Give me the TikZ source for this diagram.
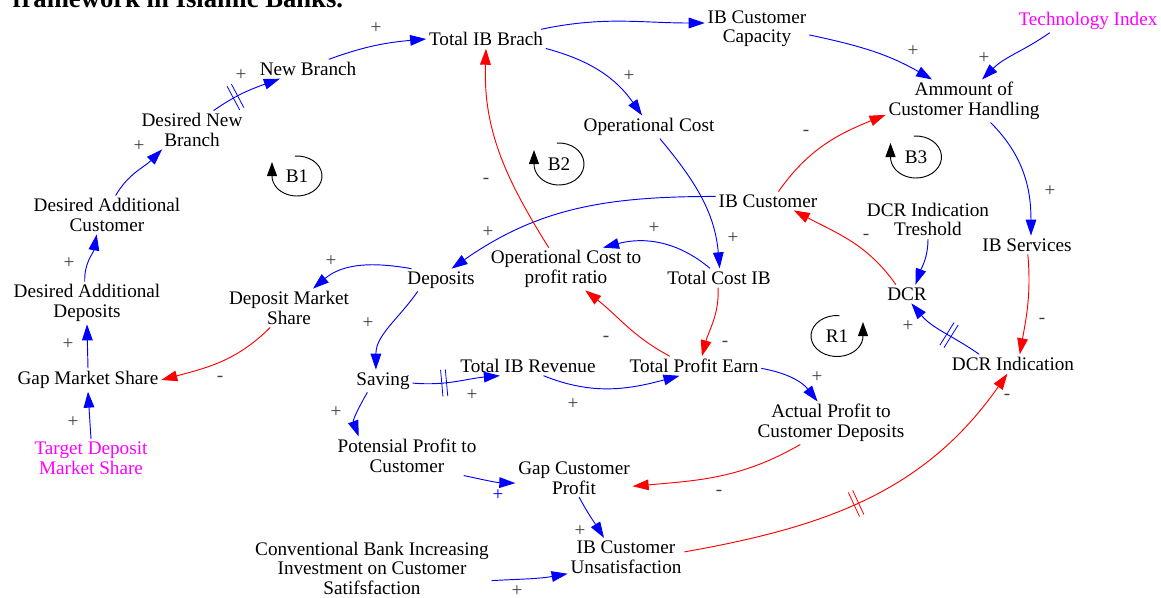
\documentclass[tikz,border=0pt]{standalone}
\usepackage{fontspec}
\setmainfont{Liberation Serif}
\usetikzlibrary{arrows.meta,decorations.markings}
\definecolor{exomagenta}{RGB}{255,0,255}
\newcommand{\varsize}{\fontsize{14.4}{14.6}\selectfont}

\tikzset{
  var/.style={align=center, inner sep=2pt, font=\varsize},
  exo/.style={var, text=exomagenta},
  sign/.style={inner sep=0pt, text=black!75, font=\varsize},
  poslink/.style={blue, line width=0.7pt, -{Triangle[length=12pt,width=8pt]}},
  neglink/.style={red, line width=0.7pt, -{Triangle[length=12pt,width=8pt]}},
  loopmark/.style={black, line width=0.7pt, -{Triangle[length=10.5pt,width=7.5pt]}},
  delaymark/.style={postaction={decorate, decoration={markings,
    mark=at position #1 with {\draw[-, line width=0.6pt] (-1.8pt,-10pt) -- (-1.8pt,10pt) (1.8pt,-10pt) -- (1.8pt,10pt);}}}}
}

\begin{document}
\begin{tikzpicture}[x=0.75pt, y=0.75pt]
\useasboundingbox (0,0) rectangle (1161,-597);

\node[anchor=base west, font=\fontsize{20}{24}\selectfont\bfseries] (title) at (8,-7) {framework in Islamic Banks.};

% variables
\node[var] (NB) at (308,-69) {New Branch};
\node[var] (TIB) at (486,-39) {Total IB Brach};
\node[var] (IBCC) at (757,-28.5) {IB Customer\\Capacity};
\node[exo] (TI) at (1088,-21) {Technology Index};
\node[var] (ACH) at (964,-101) {Ammount of\\Customer Handling};
\node[var] (OC) at (649,-127) {Operational Cost};
\node[var] (DNB) at (192,-130) {Desired New\\Branch};
\node[var] (DAC) at (107,-215) {Desired Additional\\Customer};
\node[var] (IBC) at (768,-201) {IB Customer};
\node[var] (DCRIT) at (928,-219.5) {DCR Indication\\Treshold};
\node[var] (IBS) at (1027,-245) {IB Services};
\node[var] (OCPR) at (566,-269) {Operational Cost to\\profit ratio};
\node[var] (TC) at (719,-278) {Total Cost IB};
\node[var] (Dep) at (441,-280) {Deposits};
\node[var] (DMS) at (289,-308) {Deposit Market\\Share};
\node[var] (DAD) at (87,-303) {Desired Additional\\Deposits};
\node[var] (DCR) at (907,-294) {DCR};
\node[var] (DCRI) at (1013,-364) {DCR Indication};
\node[var] (GMS) at (88,-380) {Gap Market Share};
\node[var] (Sav) at (383,-381) {Saving};
\node[var] (TR) at (528,-366) {Total IB Revenue};
\node[var] (TPE) at (694,-366) {Total Profit Earn};
\node[var] (APCD) at (831,-423) {Actual Profit to\\Customer Deposits};
\node[exo] (TDMS) at (91,-458) {Target Deposit\\Market Share};
\node[var] (PPC) at (407,-456) {Potensial Profit to\\Customer};
\node[var] (GCP) at (574,-478) {Gap Customer\\Profit};
\node[var] (IBU) at (626,-557) {IB Customer\\Unsatisfaction};
\node[var] (CBI) at (372,-568) {Conventional Bank Increasing\\Investment on Customer\\Satifsfaction};

% loop markers
\node (b1) at (297,-176) {\varsize B1};
\node (b2) at (559,-164) {\varsize B2};
\node (b3) at (916,-157) {\varsize B3};
\node (r1) at (837,-336) {\varsize R1};
\draw[loopmark] (b1.center) ++(95:25 and 20) arc[start angle=95, end angle=-180, x radius=25, y radius=20] -- ++(0,14);
\draw[loopmark] (b2.center) ++(95:25 and 21) arc[start angle=95, end angle=-180, x radius=25, y radius=21] -- ++(0,14);
\draw[loopmark] (b3.center) ++(95:25.5 and 21) arc[start angle=95, end angle=-180, x radius=25.5, y radius=21] -- ++(0,14);
\draw[loopmark] (r1.center) ++(85:26 and 20.5) arc[start angle=85, end angle=360, x radius=26, y radius=20.5] -- ++(0,14);

% links
\draw[poslink, delaymark=0.35] (DNB.42) to[out=35,in=200] (NB.199);
\draw[poslink] (NB.25) to[out=20,in=185] (TIB.180);
\draw[poslink] (TIB.10) to[out=12,in=180] (IBCC.174);
\draw[poslink] (TIB.-9) to[out=-15,in=125] (OC.121);
\draw[poslink] (IBCC.-7) to[out=-12,in=150] (ACH.146);
\draw[poslink] (TI.197) to[out=215,in=45] (ACH.50);
\draw[neglink] (IBC.42) to[out=55,in=202] (ACH.190);
\draw[poslink] (ACH.-39) to[out=-45,in=90] (IBS.67);
\draw[neglink] (IBS.-85) to[out=-85,in=80] (DCRI.55);
\draw[poslink] (DCRIT.-90) to[out=-90,in=70] (DCR.48);
\draw[poslink, delaymark=0.42] (DCRI.164) to[out=145,in=-50] (DCR.-65);
\draw[neglink] (DCR.140) to[out=125,in=-28] (IBC.-20);
\draw[neglink, delaymark=0.47] (IBU.5) to[out=10,in=-125] (DCRI.-120);
\draw[poslink] (OC.-47) to[out=-50,in=95] (TC.86);
\draw[poslink] (IBC.175) to[out=180,in=35] (Dep.47);
\draw[poslink] (TC.133) to[out=140,in=15] (OCPR.30);
\draw[neglink] (OCPR.129) to[out=122,in=-92] (TIB.-90);
\draw[neglink] (TPE.158) to[out=152,in=-38] (OCPR.-48);
\draw[neglink] (TC.-95) to[out=-88,in=75] (TPE.51);
\draw[poslink] (Dep.159) to[out=170,in=40] (DMS.39);
\draw[poslink] (Dep.206) to[out=-125,in=90] (Sav.122);
\draw[neglink] (DMS.226) to[out=-135,in=15] (GMS.0);
\draw[poslink, delaymark=0.36] (Sav.-4) to[out=-5,in=185] (TR.199);
\draw[poslink] (TR.-32) to[out=-22,in=195] (TPE.214);
\draw[poslink] (TPE.-2) to[out=-10,in=128] (APCD.122);
\draw[neglink] (APCD.215) to[out=-150,in=5] (GCP.-8);
\draw[poslink] (Sav.216) to[out=-120,in=110] (PPC.158);
\draw[poslink] (PPC.-19) to[out=-12,in=178] (GCP.185);
\draw[poslink] (GCP.-75) to[out=-62,in=122] (IBU.139);
\draw[poslink] (CBI.-6) to[out=3,in=190] (IBU.196);
\draw[poslink] (DAC.66) to[out=60,in=225] (DNB.213);
\draw[poslink] (DAD.96) to[out=92,in=-100] (DAC.242);
\draw[poslink] (GMS.north) -- (DAD.south);
\draw[poslink] (TDMS.north) -- (GMS.south);

% polarities
\node[sign] (s1) at (241,-75) {+};
\node[sign] (s2) at (376,-28) {+};
\node[sign] (s3) at (629,-76) {+};
\node[sign] (s4) at (913,-51) {+};
\node[sign] (s5) at (984,-58) {+};
\node[sign] (s6) at (806,-133) {-};
\node[sign] (s7) at (1050,-191) {+};
\node[sign] (s8) at (1042,-321) {-};
\node[sign] (s9) at (908,-326) {+};
\node[sign] (s10) at (866,-237) {-};
\node[sign] (s11) at (1007,-397) {-};
\node[sign] (s12) at (733,-238) {+};
\node[sign] (s13) at (488,-232) {+};
\node[sign] (s14) at (654,-228) {+};
\node[sign] (s15) at (486,-181) {-};
\node[sign] (s16) at (606,-339) {-};
\node[sign] (s17) at (725,-344) {-};
\node[sign] (s18) at (331,-261) {+};
\node[sign] (s19) at (368,-323) {+};
\node[sign] (s20) at (220,-379) {-};
\node[sign] (s21) at (472,-395) {+};
\node[sign] (s22) at (573,-404) {+};
\node[sign] (s23) at (817,-377) {+};
\node[sign] (s24) at (719,-493) {-};
\node[sign] (s25) at (336,-412) {+};
\node[sign, text=blue] (s26) at (498,-495) {+};
\node[sign] (s27) at (580,-531) {+};
\node[sign] (s28) at (517,-591) {+};
\node[sign] (s29) at (139,-146) {+};
\node[sign] (s30) at (69,-263) {+};
\node[sign] (s31) at (68,-344) {+};
\node[sign] (s32) at (73,-422) {+};

\end{tikzpicture}
\end{document}
